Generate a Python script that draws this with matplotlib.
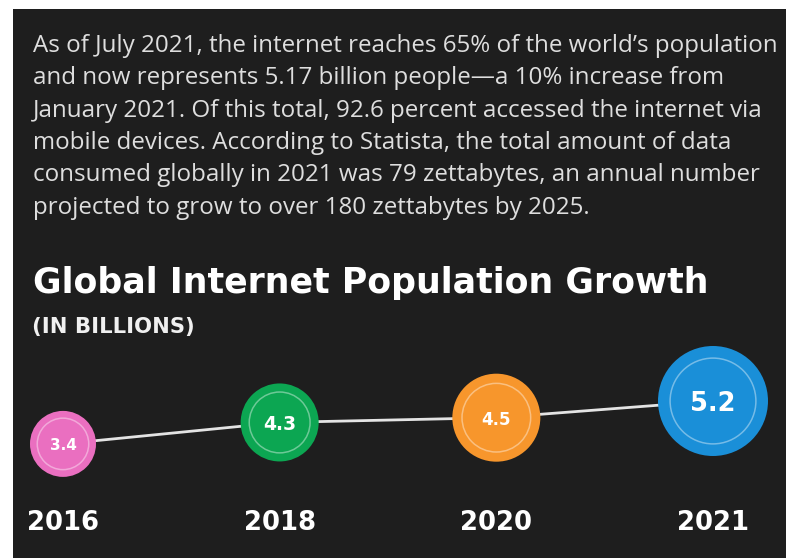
import matplotlib
matplotlib.use("Agg")
import matplotlib.pyplot as plt
from matplotlib.patches import Rectangle
from matplotlib.transforms import blended_transform_factory

# ---- data -------------------------------------------------------------
years = ["2016", "2018", "2020", "2021"]
users_billions = [3.4, 4.3, 4.5, 5.2]
value_labels = ["3.4", "4.3", "4.5", "5.2"]

title = "Global Internet Population Growth"
subtitle = "(IN BILLIONS)"
paragraph_lines = [
    "As of July 2021, the internet reaches 65% of the world\u2019s population",
    "and now represents 5.17 billion people\u2014a 10% increase from",
    "January 2021. Of this total, 92.6 percent accessed the internet via",
    "mobile devices. According to Statista, the total amount of data",
    "consumed globally in 2021 was 79 zettabytes, an annual number",
    "projected to grow to over 180 zettabytes by 2025.",
]

# ---- styling ----------------------------------------------------------
W, H, DPI = 786, 558, 100
BG = "#1e1e1e"
HEAD_FONT = "DejaVu Sans"
bubble_colors = ["#ea6fc0", "#0ca652", "#f7962c", "#1a8fd8"]
bubble_radius_px = [33, 39, 44, 55]
label_sizes = [11, 13.5, 12, 18.5]

fig = plt.figure(figsize=(W / DPI, H / DPI), dpi=DPI, facecolor="white")
fig.patches.append(Rectangle((13 / W, 0), (W - 13) / W, (H - 9) / H,
                             transform=fig.transFigure, facecolor=BG,
                             edgecolor="none", zorder=-5))
renderer = fig.canvas.get_renderer()


def fy(py):
    """Convert a pixel row (from the top) to a figure fraction."""
    return (H - py) / H


def fit_width(txt, target_px):
    w = txt.get_window_extent(renderer).width
    txt.set_fontsize(txt.get_fontsize() * target_px / w)


# paragraph
para_texts = []
for i, line in enumerate(paragraph_lines):
    t = fig.text(33 / W, fy(52 + i * 32.3), line, color="#dedede",
                 fontsize=15, family="Open Sans", va="baseline", ha="left")
    para_texts.append(t)
fit_width(para_texts[0], 745)
for t in para_texts[1:]:
    t.set_fontsize(para_texts[0].get_fontsize())

# headings
t_title = fig.text(33 / W, fy(293), title, color="white", fontsize=22,
                   family=HEAD_FONT, fontweight="bold", va="baseline", ha="left")
fit_width(t_title, 672)
t_sub = fig.text(32 / W, fy(333), subtitle, color="#f0f0f0", fontsize=14,
                 family=HEAD_FONT, fontweight="bold", va="baseline", ha="left")
fit_width(t_sub, 161)

# ---- bubble line chart ------------------------------------------------
y_top, y_bot = 401.0, 443.9
ax = fig.add_axes([63 / W, fy(y_bot), 650 / W, (y_bot - y_top) / H])
ax.set_xlim(0, len(years) - 1)
ax.set_ylim(min(users_billions), max(users_billions))
ax.axis("off")

xs = list(range(len(years)))
ax.plot(xs, users_billions, color="#e4e4e4", lw=2, zorder=1, clip_on=False,
        solid_capstyle="round")

sizes = [(2 * r * 72 / DPI) ** 2 for r in bubble_radius_px]
ring_sizes = [(2 * 0.78 * r * 72 / DPI) ** 2 for r in bubble_radius_px]
ax.scatter(xs, users_billions, s=sizes, c=bubble_colors, edgecolors="none",
           zorder=2, clip_on=False)
ax.scatter(xs, users_billions, s=ring_sizes, facecolors="none",
           edgecolors=(1, 1, 1, 0.4), linewidths=1.1, zorder=3, clip_on=False)

for x, v, lab, fs in zip(xs, users_billions, value_labels, label_sizes):
    ax.text(x, v, lab, ha="center", va="center_baseline", color="white",
            fontsize=fs, family=HEAD_FONT, fontweight="bold", zorder=4)

year_tf = blended_transform_factory(ax.transData, fig.transFigure)
for x, yr in zip(xs, years):
    t = ax.text(x, fy(530), yr, transform=year_tf, ha="center", va="baseline",
                color="white", fontsize=17, family=HEAD_FONT, fontweight="bold")
    fit_width(t, 72)

fig.savefig("out.png", dpi=DPI, facecolor=fig.get_facecolor())
